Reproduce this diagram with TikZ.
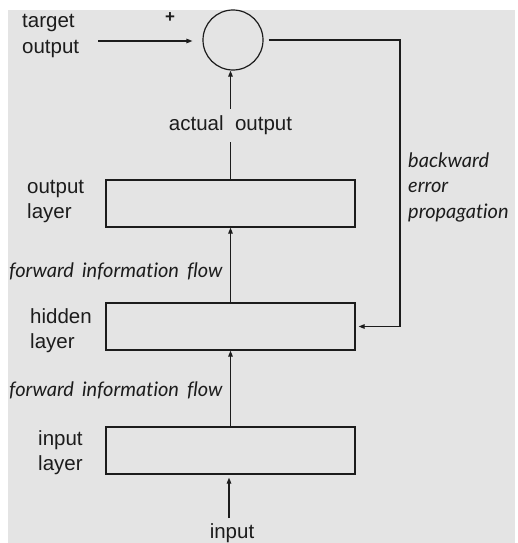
\documentclass[tikz,border=0pt]{standalone}
\usepackage{fontspec}
\setmainfont{Liberation Sans}
\newfontfamily\slfont[Ligatures={NoCommon,NoRare}]{Lato}
\usetikzlibrary{arrows.meta}
\definecolor{panel}{HTML}{E4E4E4}
\definecolor{ink}{HTML}{1C1C1C}
\tikzset{
  wire/.style={draw=ink, line width=1.2pt},
  flow/.style={wire, -{Triangle[length=6pt,width=4.5pt]}},
  layerbox/.style={draw=ink, line width=1.2pt, fill=panel, minimum width=249pt, minimum height=47pt, inner sep=0pt},
  sumnode/.style={draw=ink, line width=1.2pt, circle, minimum size=60pt, inner sep=0pt},
  lbl/.style={font=\fontsize{20.5pt}{25pt}\selectfont, align=left, inner sep=0pt, text=ink},
  itlbl/.style={font=\fontsize{20pt}{25.5pt}\selectfont\slfont\itshape, align=left, inner sep=0pt, text=ink},
}
\begin{document}
\begin{tikzpicture}[x=1pt, y=-1pt]
  \useasboundingbox (0,0) rectangle (517,543);
  \fill[panel] (8,10) rectangle (515,543);

  % summing junction and the three layers
  \node[sumnode] (sum) at (233,40) {};
  \node[layerbox] (out) at (230.5,203.5) {};
  \node[layerbox] (hid) at (230.5,326.5) {};
  \node[layerbox] (inl) at (230.5,450.5) {};

  % side labels (anchored on the baseline of their last line)
  \node[lbl, anchor=base west] (tgtlbl) at (22,53) {target\\output};
  \node[lbl, anchor=base west] (outlbl) at (27,218) {output\\layer};
  \node[lbl, anchor=base west] (hidlbl) at (30,348) {hidden\\layer};
  \node[lbl, anchor=base west] (inlbl) at (38,470) {input\\layer};
  \node[itlbl, anchor=base west] (bwd) at (408,218) {backward\\error\\propagation};
  \node[itlbl, anchor=base west] (fwd1) at (9,277) {forward\, information\, flow};
  \node[itlbl, anchor=base west] (fwd2) at (9,396) {forward\, information\, flow};
  \node[lbl, font=\fontsize{17pt}{18pt}\selectfont\bfseries, anchor=center] (plus) at (170,18) {+};

  % target input into the junction
  \coordinate (tgt) at (98,41);
  \draw[flow, shorten >=10pt] (tgt) -- (tgt -| sum.west);

  % actual output rising from the output layer
  \draw[flow] (out.north) -- (out.north |- sum.south)
    node[pos=0.5, fill=panel, inner sep=0pt, minimum height=33pt, lbl, anchor=center] (act) {actual\ \ output};

  % forward flow between the layers
  \draw[flow] (hid.north) -- (out.south);
  \draw[flow] (inl.north) -- (hid.south);

  % external input
  \coordinate (src) at (229,518);
  \draw[flow, shorten >=3pt] (src) -- (src |- inl.south);
  \node[lbl, anchor=base] (inlabel) at (232,538) {input};

  % error fed back to the hidden layer
  \coordinate (fb) at (400,40);
  \draw[flow, shorten <=5pt, shorten >=3pt] (sum.east) -- (fb) |- (hid.east);
\end{tikzpicture}
\end{document}
